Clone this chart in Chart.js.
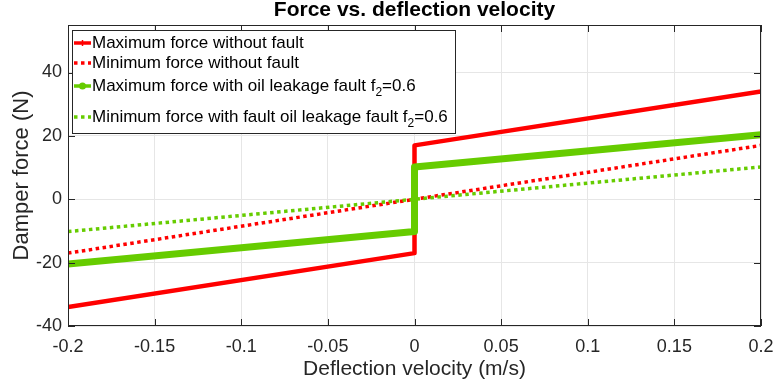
<!DOCTYPE html>
<html lang="en">
<head>
<meta charset="UTF-8" />
<title>Force vs. deflection velocity</title>
<script src="https://cdn.jsdelivr.net/npm/chart.js"></script>
<style>
  html, body { margin: 0; padding: 0; background: #fff; }
  canvas { display: block; }
</style>
</head>
<body>
<canvas id="forceChart" width="774" height="390"></canvas>
<script>
  // velocity (m/s); the max-force curves jump at v = 0
  const velocityStep = [-0.2, 0, 0, 0.2];
  const velocityLine = [-0.2, 0.2];

  // damper force (N)
  const maxNoFault = [-34, -17, 17, 34];
  const minNoFault = [-17, 17];
  const maxOilLeak = [-20.4, -10.2, 10.2, 20.4];
  const minOilLeak = [-10.2, 10.2];

  const xTicks = [-0.2, -0.15, -0.1, -0.05, 0, 0.05, 0.1, 0.15, 0.2];
  const yTicks = [-40, -20, 0, 20, 40];

  const labels = [
    'Maximum force without fault',
    'Minimum force without fault',
    'Maximum force with oil leakage fault f_2=0.6',
    'Minimum force with fault oil leakage fault f_2=0.6'
  ];

  const RED = '#ff0000';
  const GREEN = '#66cc00';
  const AXIS = '#262626';
  const FONT = "'Liberation Sans', Arial, Helvetica, sans-serif";

  const pts = (xs, ys) => xs.map((x, i) => ({ x: x, y: ys[i] }));

  // box round the axes with inward ticks, MATLAB style
  const framePlugin = {
    id: 'frame',
    afterDatasetsDraw(chart) {
      const { ctx, chartArea: a, scales } = chart;
      ctx.save();
      ctx.strokeStyle = AXIS;
      ctx.lineWidth = 1;
      ctx.strokeRect(a.left + 0.5, a.top + 0.5, a.right - a.left - 1, a.bottom - a.top - 1);
      ctx.beginPath();
      const len = 7;
      xTicks.forEach(v => {
        const x = Math.round(scales.x.getPixelForValue(v)) + 0.5;
        ctx.moveTo(x, a.bottom); ctx.lineTo(x, a.bottom - len);
        ctx.moveTo(x, a.top); ctx.lineTo(x, a.top + len);
      });
      yTicks.forEach(v => {
        const y = Math.round(scales.y.getPixelForValue(v)) + 0.5;
        ctx.moveTo(a.left, y); ctx.lineTo(a.left + len, y);
        ctx.moveTo(a.right, y); ctx.lineTo(a.right - len, y);
      });
      ctx.stroke();
      ctx.restore();
    }
  };

  // legend box in the upper left corner, text with subscripts
  const legendPlugin = {
    id: 'matlabLegend',
    afterDraw(chart) {
      const { ctx } = chart;
      const box = { x: 72, y: 30, w: 383, h: 103 };
      const rows = [43, 63, 86, 117];
      ctx.save();
      ctx.fillStyle = '#fff';
      ctx.fillRect(box.x, box.y, box.w, box.h);
      ctx.strokeStyle = AXIS;
      ctx.lineWidth = 1;
      ctx.strokeRect(box.x + 0.5, box.y + 0.5, box.w, box.h);

      chart.data.datasets.forEach((ds, i) => {
        const y = rows[i];
        ctx.save();
        ctx.strokeStyle = ds.borderColor;
        ctx.lineWidth = 3.5;
        ctx.setLineDash(ds.borderDash);
        ctx.beginPath();
        ctx.moveTo(74, y); ctx.lineTo(91, y);
        ctx.stroke();
        ctx.setLineDash([]);
        if (ds.legendMarker === 'circle') {
          ctx.fillStyle = ds.borderColor;
          ctx.beginPath(); ctx.arc(82.5, y, 3.5, 0, Math.PI * 2); ctx.fill();
        } else if (ds.legendMarker === 'plus') {
          ctx.lineWidth = 1.5;
          ctx.beginPath();
          ctx.moveTo(82.5, y - 3); ctx.lineTo(82.5, y + 3);
          ctx.stroke();
        }
        ctx.restore();

        // text, "_" marks a subscript character
        ctx.fillStyle = '#000';
        ctx.textBaseline = 'middle';
        let x = 92;
        const parts = ds.label.split(/_(.)/);
        parts.forEach((p, k) => {
          if (k % 2 === 1) {
            ctx.font = '12px ' + FONT;
            ctx.fillText(p, x, y + 7);
          } else {
            ctx.font = '17px ' + FONT;
            ctx.fillText(p, x, y);
          }
          x += ctx.measureText(p).width;
        });
      });
      ctx.restore();
    }
  };

  new Chart(document.getElementById('forceChart'), {
    type: 'line',
    data: {
      datasets: [
        {
          label: labels[0], data: pts(velocityStep, maxNoFault),
          borderColor: RED, borderWidth: 4.5, borderDash: [],
          borderJoinStyle: 'round', legendMarker: 'plus', order: 4
        },
        {
          label: labels[1], data: pts(velocityLine, minNoFault),
          borderColor: RED, borderWidth: 3.5, borderDash: [3.5, 3.5], order: 3
        },
        {
          label: labels[2], data: pts(velocityStep, maxOilLeak),
          borderColor: GREEN, borderWidth: 7, borderDash: [],
          borderCapStyle: 'round', borderJoinStyle: 'round', legendMarker: 'circle', order: 2
        },
        {
          label: labels[3], data: pts(velocityLine, minOilLeak),
          borderColor: GREEN, borderWidth: 3.5, borderDash: [3.5, 3.5], order: 1
        }
      ]
    },
    options: {
      responsive: false,
      animation: false,
      devicePixelRatio: 1,
      layout: { padding: { top: 0, right: 13, bottom: 0, left: 0 } },
      elements: { point: { radius: 0, hoverRadius: 0 }, line: { tension: 0 } },
      plugins: {
        legend: { display: false },
        tooltip: { enabled: false },
        title: {
          display: true,
          fullSize: false,
          text: 'Force vs. deflection velocity',
          color: '#000',
          font: { family: FONT, size: 21, weight: 'bold', lineHeight: 1 },
          padding: { top: 0, bottom: 4 }
        }
      },
      scales: {
        x: {
          type: 'linear', min: -0.2, max: 0.2,
          afterBuildTicks: s => { s.ticks = xTicks.map(v => ({ value: v })); },
          afterFit: s => { s.height = 64; s.paddingLeft = 0; s.paddingRight = 0; },
          grid: { color: '#e6e6e6', drawTicks: false },
          border: { display: false },
          ticks: {
            color: AXIS, padding: 10, maxRotation: 0,
            font: { family: FONT, size: 18 },
            callback: v => String(+v.toFixed(2))
          },
          title: {
            display: true, text: 'Deflection velocity (m/s)', color: AXIS,
            font: { family: FONT, size: 21 }, padding: { bottom: 8 }
          }
        },
        y: {
          min: -40, max: 55,
          afterBuildTicks: s => { s.ticks = yTicks.map(v => ({ value: v })); },
          afterFit: s => { s.width = 68; s.paddingTop = 0; s.paddingBottom = 0; },
          grid: { color: '#e6e6e6', drawTicks: false },
          border: { display: false },
          ticks: {
            color: AXIS, padding: 6,
            font: { family: FONT, size: 18 },
            callback: v => String(v)
          },
          title: {
            display: true, text: 'Damper force (N)', color: AXIS,
            font: { family: FONT, size: 22 }, padding: { top: 9 }
          }
        }
      }
    },
    plugins: [framePlugin, legendPlugin]
  });
</script>
</body>
</html>
